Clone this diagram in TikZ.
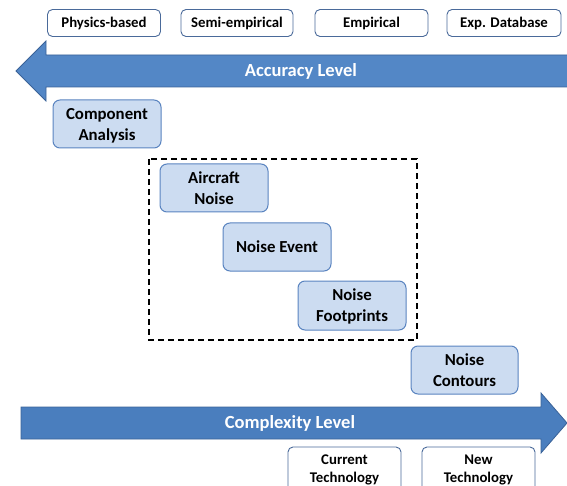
\documentclass[tikz,border=0pt]{standalone}
\usepackage{fontspec}
\setmainfont{Carlito}[BoldFont={Carlito Bold}]
\definecolor{boxfill}{HTML}{CCDCF1}
\definecolor{boxline}{HTML}{5A84C0}
\definecolor{tline}{HTML}{4A6A9A}
\definecolor{arrfillA}{HTML}{5387C6}
\definecolor{arrfillB}{HTML}{4A7EBE}
\definecolor{arrline}{HTML}{3A6298}
\begin{document}
\begin{tikzpicture}[x=1pt,y=-1pt,
  lbox/.style={draw=boxline, fill=boxfill, rounded corners=7pt, line width=1pt,
    font=\bfseries\fontsize{16.8}{21}\selectfont, align=center, inner sep=0pt,
    minimum width=108pt, minimum height=48pt, text depth=0pt},
  tbox/.style={draw=tline, fill=white, rounded corners=5pt, line width=0.9pt,
    font=\bfseries\fontsize{14.8}{18}\selectfont, align=center, inner sep=0pt,
    minimum width=113pt, minimum height=27pt},
  arr/.style={draw=arrline, line width=0.8pt},
  arrtext/.style={text=white, font=\bfseries\fontsize{18.5}{21}\selectfont, inner sep=0pt}]
\useasboundingbox (0,0) rectangle (567,486);
\clip (0,0) rectangle (567,486);

% top category boxes
\node[tbox] (phys) at (104,23) {Physics-based};
\node[tbox, minimum width=112pt] (semi) at (237,23) {Semi-empirical};
\node[tbox] (emp) at (371.5,23) {Empirical};
\node[tbox, minimum width=114pt] (exp) at (504,23) {Exp. Database};

% accuracy arrow
\draw[arr, fill=arrfillA] (572,55) -- (46,55) -- (46,41) -- (16,71) -- (46,101) -- (46,87) -- (572,87) -- cycle;
\node[arrtext] (acc) at (301,71) {Accuracy Level};

% process boxes
\node[lbox] (comp) at (107,124) {Component\\Analysis};
\draw[dashed, line width=1.4pt, dash pattern=on 6pt off 4pt] (149,159) rectangle (417,340);
\node[lbox] (air) at (214,188) {Aircraft\\Noise};
\node[lbox] (event) at (277,247) {Noise Event};
\node[lbox, minimum height=49pt] (foot) at (352,305.5) {Noise\\Footprints};
\node[lbox, minimum width=107pt] (cont) at (464.5,370) {Noise\\Contours};

% complexity arrow
\draw[arr, fill=arrfillB] (21,407) -- (541,407) -- (541,393) -- (567,423) -- (541,453) -- (541,439) -- (21,439) -- cycle;
\node[arrtext] (cplx) at (290,423) {Complexity Level};

% bottom technology boxes
\node[tbox, minimum height=44pt, text depth=0pt] (cur) at (344.5,469) {Current\\Technology};
\node[tbox, minimum height=44pt, text depth=0pt] (new) at (478.5,469) {New\\Technology};
\end{tikzpicture}
\end{document}
